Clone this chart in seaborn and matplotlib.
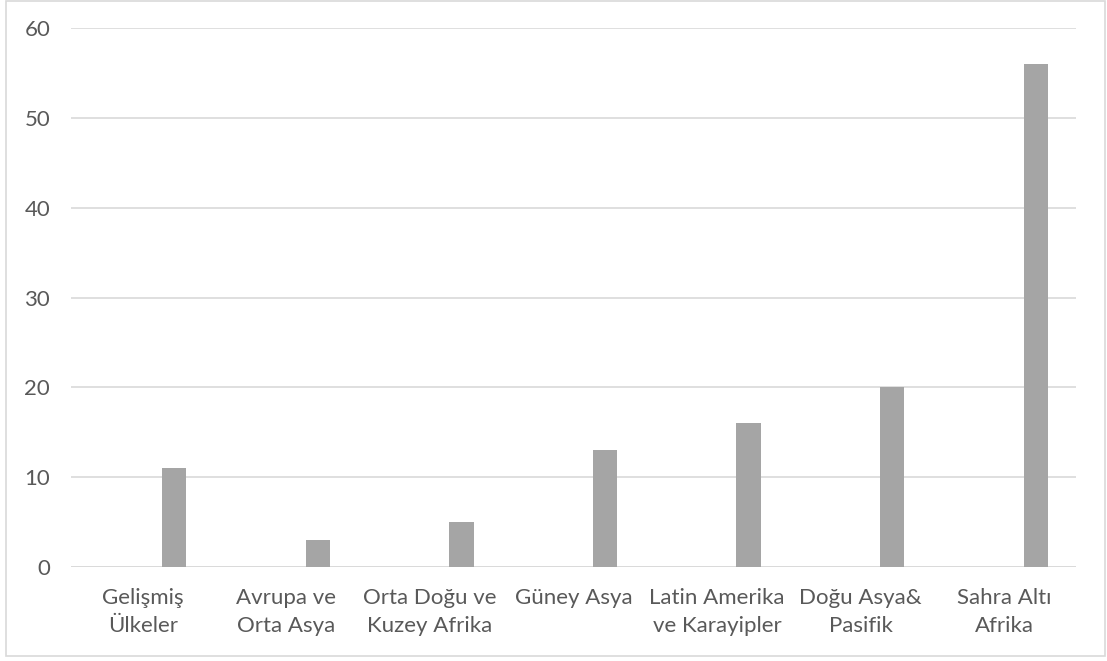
import matplotlib
matplotlib.use("Agg")
import matplotlib.pyplot as plt
from matplotlib.patches import Rectangle
import seaborn as sns
import pandas as pd

regions = ["Gelişmiş\nÜlkeler", "Avrupa ve\nOrta Asya", "Orta Doğu ve\nKuzey Afrika",
           "Güney Asya", "Latin Amerika\nve Karayipler", "Doğu Asya&\nPasifik",
           "Sahra Altı\nAfrika"]
values = [11, 3, 5, 13, 16, 20, 56]
series_order = ["Seri 1", "Seri 2"]
y_ticks = [0, 10, 20, 30, 40, 50, 60]

df = pd.DataFrame({"bolge": regions, "deger": values, "seri": "Seri 2"})

sns.set_theme(style="white")
plt.rcParams["font.family"] = ["Lato", "DejaVu Sans"]

fig = plt.figure(figsize=(11.07, 6.61), dpi=100)
ax = fig.add_axes([0.0641, 0.1422, 0.9079, 0.8154])

# the first series has no values; its slot stays empty left of each bar
sns.barplot(data=df, x="bolge", y="deger", hue="seri", hue_order=series_order,
            order=regions, palette={"Seri 1": "#5B9BD5", "Seri 2": "#A5A5A5"},
            dodge=True, width=0.88, gap=0.615, linewidth=0, legend=False,
            ax=ax, zorder=3)

ax.set_ylim(0, 60)
ax.set_xlim(-0.5, len(regions) - 0.5)
ax.set_yticks(y_ticks)
ax.yaxis.grid(True, color="#D9D9D9", linewidth=1.2, zorder=0)
ax.set_axisbelow(True)
for s in ax.spines.values():
    s.set_visible(False)
ax.axhline(0, color="#D9D9D9", linewidth=1.2, zorder=1)
ax.set_xlabel("")
ax.set_ylabel("")
ax.tick_params(axis="both", length=0, labelsize=16, labelcolor="#595959")
ax.tick_params(axis="y", pad=15)
ax.tick_params(axis="x", pad=15)
for lbl in ax.get_xticklabels():
    lbl.set_linespacing(1.5)

fig.patches.append(Rectangle((6 / 1107, 1 - 656 / 661), (1105 - 6) / 1107, (656 - 1) / 661,
                             transform=fig.transFigure, fill=False,
                             edgecolor="#D9D9D9", linewidth=1.2))

fig.savefig("out.png", dpi=100)
